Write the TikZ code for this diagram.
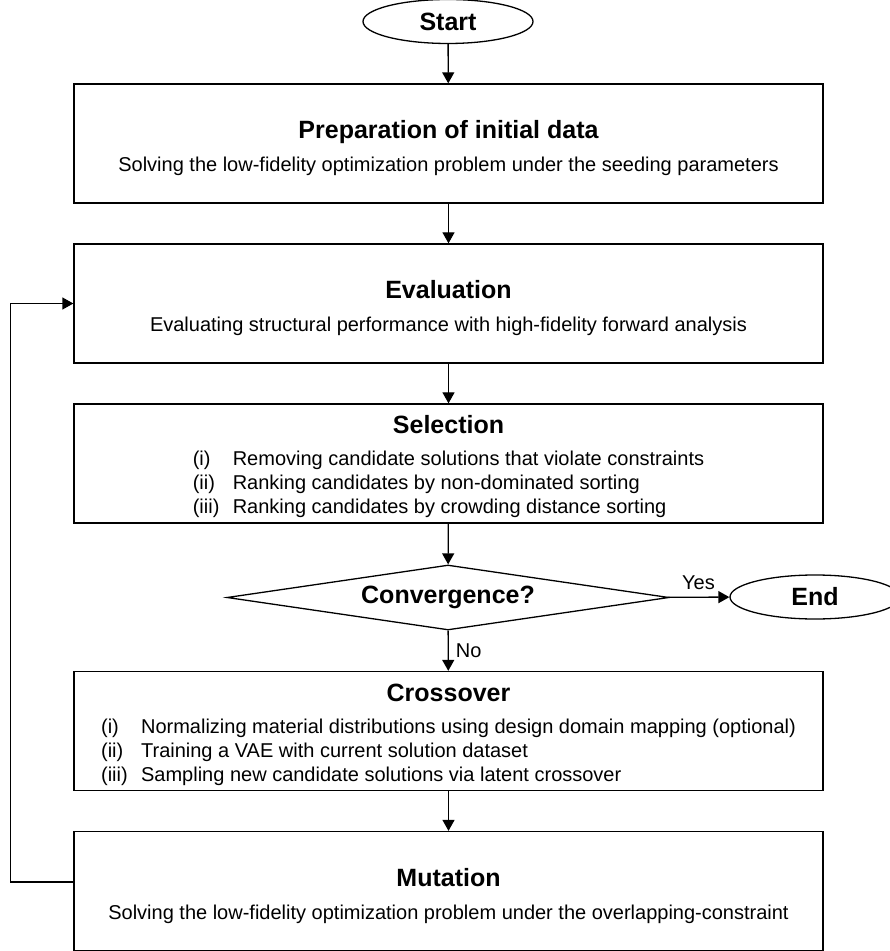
\documentclass[tikz,border=0pt]{standalone}
\usepackage{fontspec}
\setmainfont{Liberation Sans}
\usetikzlibrary{shapes.geometric,arrows.meta}
\newcommand\boxtitle[1]{{\fontsize{12.5}{15}\selectfont\bfseries\rule{0pt}{14pt}#1}}
\begin{document}
\begin{tikzpicture}[x=0.5pt, y=-0.5pt, line width=0.65pt, font=\fontsize{10}{12}\selectfont]
    \tikzset{%
      stepbox/.style={draw, rectangle, minimum width=374.5pt, minimum height=59.5pt, align=center, inner sep=0pt},
      term/.style={draw, ellipse, minimum width=85pt, minimum height=22pt, inner sep=0pt, font=\fontsize{12.5}{15}\selectfont\bfseries},
      decide/.style={draw, diamond, aspect=6.8, minimum width=221pt, minimum height=32.5pt, inner sep=0pt, font=\fontsize{12.5}{15}\selectfont\bfseries},
      flow/.style={-{Triangle[width=6pt,length=5.5pt]}}
      }
    \useasboundingbox (0,0) rectangle (889,951);

    \node [term] (Xstart) at (448,21.5) {Start};
    \node [stepbox] (Xprep) at (448.5,143.5) {\boxtitle{Preparation of initial data}\\[4.5pt]
      Solving the low-fidelity optimization problem under the seeding parameters};
    \node [stepbox] (Xeval) at (448.5,303.5) {\boxtitle{Evaluation}\\[4.5pt]
      Evaluating structural performance with high-fidelity forward analysis};
    \node [stepbox] (Xsel) at (448.5,463.5) {\boxtitle{Selection}\\[4pt]
      \begin{tabular}[t]{@{}p{20pt}@{}l@{}}
        (i) & Removing candidate solutions that violate constraints\\
        (ii) & Ranking candidates by non-dominated sorting\\
        (iii) & Ranking candidates by crowding distance sorting
      \end{tabular}};
    \node [decide] (Xconv) at (448,597.5) {Convergence?};
    \node [term] (Xend) at (815,597) {End};
    \node [stepbox] (Xcross) at (448.5,731) {\boxtitle{Crossover}\\[4pt]
      \begin{tabular}[t]{@{}p{20pt}@{}l@{}}
        (i) & Normalizing material distributions using design domain mapping (optional)\\
        (ii) & Training a VAE with current solution dataset\\
        (iii) & Sampling new candidate solutions via latent crossover
      \end{tabular}};
    \node [stepbox] (Xmut) at (448.5,891) {\boxtitle{Mutation}\\[4.5pt]
      Solving the low-fidelity optimization problem under the overlapping-constraint};

    \draw [flow] (Xstart) -- (Xprep);
    \draw [flow] (Xprep) -- (Xeval);
    \draw [flow] (Xeval) -- (Xsel);
    \draw [flow] (Xsel) -- (Xconv);
    \draw [flow] (Xconv) -- node [above] {Yes} (Xend);
    \draw [flow] (Xconv) -- node [right, inner sep=3.5pt] {No} (Xcross);
    \draw [flow] (Xcross) -- (Xmut);
    \draw [flow] ([yshift=4.5pt]Xmut.west) -- ++(-63,0) |- (Xeval.west);
  \end{tikzpicture}
\end{document}
